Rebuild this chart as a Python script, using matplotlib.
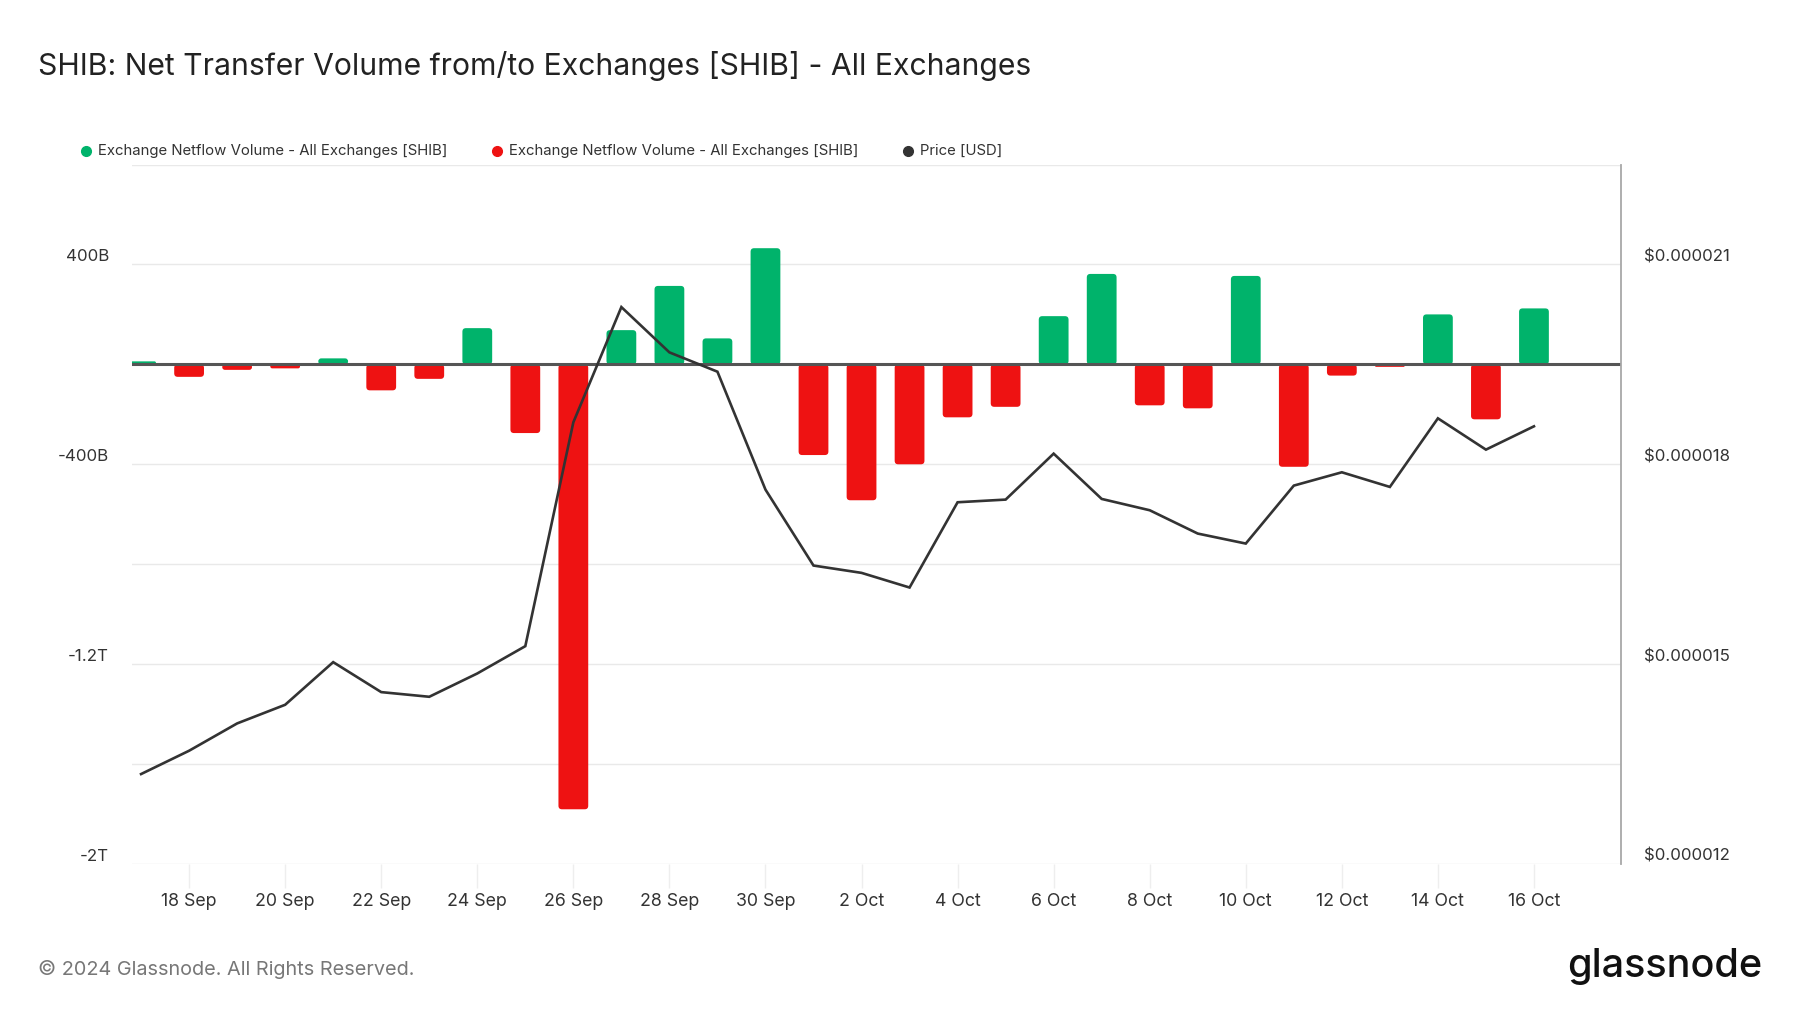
import numpy as np
import pandas as pd
import matplotlib
matplotlib.use('Agg')
import matplotlib.pyplot as plt
import matplotlib.dates as mdates
from matplotlib.transforms import ScaledTranslation
from matplotlib.lines import Line2D
from matplotlib.patches import FancyBboxPatch

# ---------------- data ----------------
dates = pd.date_range('2024-09-17', '2024-10-16', freq='D')
netflow_b = [12, -50, -22, -16, 24, -104, -58, 145, -275, -1781,
             137, 314, 104, 465,
             -363, -544, -400, -212, -170, 193, 362, -164, -176, 354,
             -410, -45, -10, 200, -220, 224]
price_usd = [1.335e-5, 1.370e-5, 1.411e-5, 1.439e-5, 1.503e-5, 1.458e-5, 1.451e-5,
             1.486e-5, 1.527e-5, 1.863e-5, 2.036e-5, 1.968e-5, 1.939e-5, 1.762e-5,
             1.648e-5, 1.637e-5, 1.615e-5, 1.743e-5, 1.747e-5, 1.816e-5, 1.748e-5,
             1.731e-5, 1.696e-5, 1.681e-5, 1.768e-5, 1.788e-5, 1.766e-5, 1.869e-5,
             1.822e-5, 1.857e-5]
tick_dates = pd.date_range('2024-09-18', '2024-10-16', freq='2D')
tick_labels = [f"{d.day} {d.strftime('%b')}" for d in tick_dates]
left_ticks = [400, -400, -1200, -2000]
left_labels = ['400B', '-400B', '-1.2T', '-2T']
grid_vals = [800, 400, 0, -400, -800, -1200, -1600, -2000]
right_ticks = [2.1e-5, 1.8e-5, 1.5e-5, 1.2e-5]
right_labels = ['$0.000021', '$0.000018', '$0.000015', '$0.000012']
legend_labels = ['Exchange Netflow Volume - All Exchanges [SHIB]',
                 'Exchange Netflow Volume - All Exchanges [SHIB]',
                 'Price [USD]']

GREEN = '#00b36b'
RED = '#ee1212'
LINE = '#333333'

plt.rcParams['font.family'] = ['Inter', 'DejaVu Sans']

fig = plt.figure(figsize=(18, 10.13), dpi=100)
ax = fig.add_axes([0.0733, 0.1471, 0.8272, 0.6905])
ax2 = ax.twinx()

x = mdates.date2num(dates)
colors = [GREEN if v >= 0 else RED for v in netflow_b]
ax.set_ylim(-2000, 800)
ax.set_xlim(x[0] - 0.19, x[-1] + 1.81)
bars = ax.bar(x, netflow_b, width=0.62, color=colors, zorder=2, linewidth=0)

# give the bars slightly rounded corners (as in the reference)
p0 = ax.transData.transform((0, 0))
p1 = ax.transData.transform((1, 1))
px_x = p1[0] - p0[0]
px_y = p1[1] - p0[1]
aspect = px_x / px_y
for rect, c in zip(bars.patches, colors):
    bx, by = rect.get_x(), rect.get_y()
    bw, bh = rect.get_width(), rect.get_height()
    y0 = min(by, by + bh)
    hh = abs(bh)
    r_px = min(3.5, hh * px_y / 2.0)
    r = r_px / px_x
    patch = FancyBboxPatch((bx, y0), bw, hh,
                           boxstyle=f'round,pad=0,rounding_size={r}',
                           mutation_aspect=aspect, facecolor=c, edgecolor='none',
                           zorder=2, clip_on=True)
    ax.add_patch(patch)
    rect.set_visible(False)

for g in grid_vals:
    ax.axhline(g, color='#e9e9e9', lw=1.0, zorder=0)
ax.axhline(0, color='#555555', lw=2.2, zorder=3)

ax2.plot(x, price_usd, color=LINE, lw=1.9, zorder=4, solid_joinstyle='miter')
ax2.set_ylim(1.2e-5, 2.25e-5)

for a in (ax, ax2):
    for s in a.spines.values():
        s.set_visible(False)
    a.set_yticks([])
ax2.spines['right'].set_visible(True)
ax2.spines['right'].set_color('#a8a8a8')
ax2.spines['right'].set_linewidth(1.3)

ax.set_xticks(mdates.date2num(tick_dates))
ax.set_xticklabels(tick_labels)
ax.tick_params(axis='x', length=17, color='#eeeeee', width=1, pad=4,
               labelsize=12.8, labelcolor='#333333')

off_l = ScaledTranslation(-0.23, 0.075, fig.dpi_scale_trans)
for v, lab in zip(left_ticks, left_labels):
    ax.text(0, v, lab, transform=ax.get_yaxis_transform() + off_l,
            ha='right', va='center', fontsize=12.2, color='#333333')
off_r = ScaledTranslation(0.23, 0.075, fig.dpi_scale_trans)
for v, lab in zip(right_ticks, right_labels):
    ax2.text(1, v, lab, transform=ax2.get_yaxis_transform() + off_r,
             ha='left', va='center', fontsize=12.1, color='#333333')

# title
fig.text(38 / 1800, 1 - 66 / 1013,
         'SHIB: Net Transfer Volume from/to Exchanges [SHIB] - All Exchanges',
         ha='left', va='center', fontsize=21.7, color='#222222')

# legend
leg_y = 1 - 151 / 1013
marker_x = [86, 497, 908]
text_x = [98, 509, 920]
leg_colors = [GREEN, RED, LINE]
for mx, tx, c, lab in zip(marker_x, text_x, leg_colors, legend_labels):
    fig.add_artist(Line2D([mx / 1800], [leg_y], marker='o', markersize=7,
                          color=c, linestyle='none', transform=fig.transFigure))
    fig.text(tx / 1800, leg_y, lab, ha='left', va='center', fontsize=10.75,
             color='#333333')

# footer
fig.text(38 / 1800, 1 - 969 / 1013, '\u00a9 2024 Glassnode. All Rights Reserved.',
         ha='left', va='center', fontsize=14.3, color='#777777')
fig.text(1762 / 1800, 1 - 966 / 1013, 'glassnode', ha='right', va='center',
         fontsize=28.5, fontweight='medium', color='#111111')

fig.savefig('out.png', dpi=100, facecolor='white')
